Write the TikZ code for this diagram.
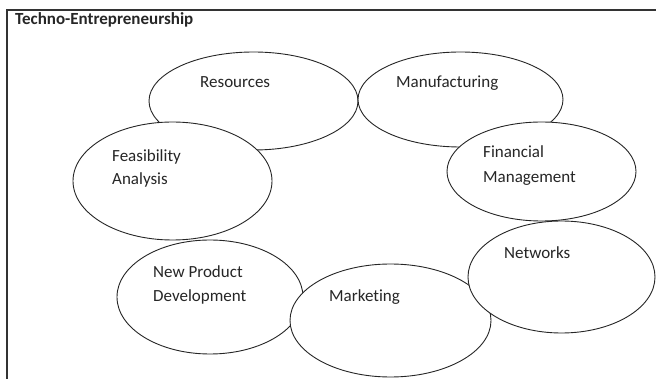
\documentclass[tikz,border=0pt]{standalone}
\usepackage{fontspec}
\setmainfont[Ligatures={NoCommon}]{Carlito}
\usetikzlibrary{shapes.geometric}
\begin{document}
\begin{tikzpicture}[x=1pt,y=-1pt,
  bubble/.style={draw=black!85,fill=white,line width=0.9pt,ellipse,inner sep=0pt},
  lbl/.style={anchor=base west,inner sep=0pt,text=black!85,font=\fontsize{17}{24}\selectfont},
  frameline/.style={draw=black!80,line width=1.4pt}]
\useasboundingbox (0,0) rectangle (656,379);
\fill[white] (0,0) rectangle (656,379);

% outer frame: top rule and left rule
\coordinate (ftl) at (7,10);
\coordinate (ftr) at (656,10);
\coordinate (fbl) at (7,379);
\draw[frameline] (ftr) -- (ftl) -- (fbl);

\node[lbl,font=\fontsize{17}{24}\selectfont\bfseries] (title) at (15,25) {Techno-Entrepreneurship};

% topic bubbles, later ones lie over earlier ones
\node[bubble,minimum width=209pt,minimum height=98pt] (res) at (253.5,101) {};
\node[bubble,minimum width=199pt,minimum height=118pt] (fea) at (172.5,181) {};
\node[bubble,minimum width=205pt,minimum height=95pt] (man) at (460.5,99.5) {};
\node[bubble,minimum width=189pt,minimum height=99pt] (fin) at (541.5,171.5) {};
\node[bubble,minimum width=186pt,minimum height=114pt] (npd) at (210,297) {};
\node[bubble,minimum width=201pt,minimum height=113pt] (mkt) at (390.5,320.5) {};
\node[bubble,minimum width=187pt,minimum height=112pt] (net) at (561.5,277) {};

% bubble captions
\node[lbl] (tres) at (200,88) {Resources};
\node[lbl] (tman) at (396,88) {Manufacturing};
\node[lbl] (tfea1) at (112,162) {Feasibility};
\node[lbl] (tfea2) at (112,185) {Analysis};
\node[lbl] (tfin1) at (483,158) {Financial};
\node[lbl] (tfin2) at (483,183) {Management};
\node[lbl] (tnpd1) at (153,278) {New Product};
\node[lbl] (tnpd2) at (153,302) {Development};
\node[lbl] (tmkt) at (329,302) {Marketing};
\node[lbl] (tnet) at (504,259) {Networks};
\end{tikzpicture}
\end{document}
